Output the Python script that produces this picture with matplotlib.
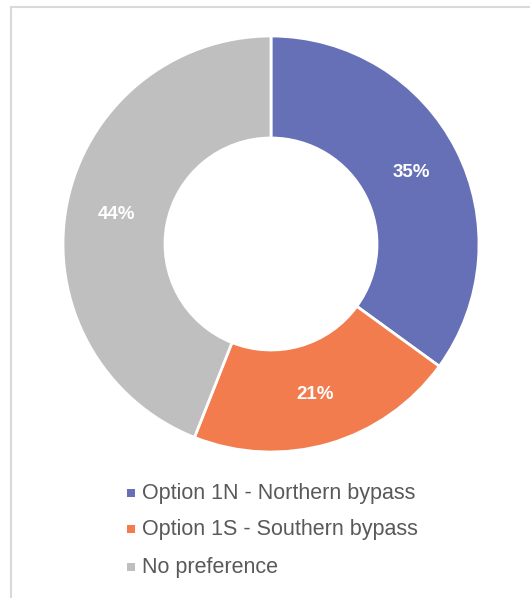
import matplotlib
matplotlib.use("Agg")
import matplotlib.pyplot as plt
from matplotlib.patches import Rectangle
import numpy as np

categories = ["Option 1N - Northern bypass", "Option 1S - Southern bypass", "No preference"]
shares = [35, 21, 44]
colors = ["#6670B7", "#F27C4E", "#BFBFBF"]

W, H = 530, 598
fig = plt.figure(figsize=(W / 100, H / 100), dpi=100)
ax = fig.add_axes([0, 0, 1, 1])

# chart frame (extends past the right and bottom edges)
ax.add_patch(Rectangle((11, -20), 560, H - 7 + 20, fill=False,
                       edgecolor="#D9D9D9", linewidth=1.5))

cx, cy, r = 271, H - 244, 208
inner = 106
ax.pie(shares, colors=colors, startangle=90, counterclock=False,
       center=(cx, cy), radius=r, frame=True,
       wedgeprops=dict(width=r - inner, edgecolor="white", linewidth=2))
ax.set_xlim(0, W)
ax.set_ylim(0, H)
ax.set_aspect("equal")
ax.axis("off")

start = 90.0
for val in shares:
    mid = start - val * 360 / 100 / 2
    rr = (r + inner) / 2
    x = cx + rr * np.cos(np.radians(mid))
    y = cy + rr * np.sin(np.radians(mid))
    ax.text(x, y, f"{val}%", ha="center", va="center", color="white",
            fontsize=13.5, fontweight="bold", family="Liberation Sans")
    start -= val * 360 / 100

# legend
leg_y = [H - 493, H - 529, H - 567]
for name, col, y in zip(categories, colors, leg_y):
    ax.add_patch(Rectangle((127, y - 4), 8, 8, color=col, linewidth=0))
    ax.text(142, y, name, ha="left", va="center", color="#595959",
            fontsize=15.5, family="Liberation Sans")

fig.savefig("out.png", dpi=100)
